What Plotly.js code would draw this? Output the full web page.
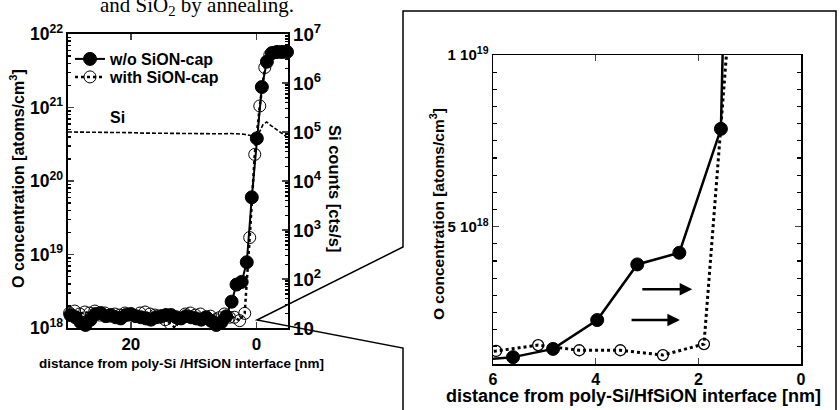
<!DOCTYPE html>
<html>
<head>
<meta charset="utf-8">
<script src="https://cdn.plot.ly/plotly-3.0.1.min.js"></script>
<style>html,body{margin:0;padding:0;background:#fff;}#chart{width:840px;height:410px;}</style>
</head>
<body>
<div id="chart"></div>
<script>
// ---- data ----
const distFilled = [29.61, 28.81, 28.01, 27.21, 26.41, 25.61, 24.81, 24.01, 23.21, 22.41,
  21.61, 20.81, 20.01, 19.21, 18.41, 17.61, 16.81, 16.01, 15.21, 14.41,
  13.61, 12.81, 12.01, 11.21, 10.41, 9.61, 8.81, 8.01, 7.21, 6.41,
  5.61, 4.83, 3.97, 3.19, 2.37, 1.56, 0.76, -0.04, -0.84, -1.64,
  -2.44, -3.24, -4.04, -4.84];
const concFilled = [1.5e18, 1.4e18, 1.2e18, 1.1e18, 1.3e18, 1.55e18, 1.6e18, 1.45e18, 1.5e18, 1.4e18,
  1.35e18, 1.5e18, 1.55e18, 1.45e18, 1.4e18, 1.35e18, 1.3e18, 1.4e18, 1.45e18, 1.5e18,
  1.5e18, 1.4e18, 1.35e18, 1.45e18, 1.4e18, 1.35e18, 1.3e18, 1.4e18, 1.25e18, 1.1e18,
  1.2e18, 1.44e18, 2.28e18, 3.9e18, 4.24e18, 7.85e18, 6e19, 3.8e20, 1.9e21, 4.2e21,
  5.5e21, 5.7e21, 5.7e21, 5.7e21];

const distOpen = [29.74, 28.94, 28.14, 27.34, 26.54, 25.74, 24.94, 24.14, 23.34, 22.54,
  21.74, 20.94, 20.14, 19.34, 18.54, 17.74, 16.94, 16.14, 15.34, 14.54,
  13.74, 12.94, 12.14, 11.34, 10.54, 9.74, 8.94, 8.14, 7.34, 6.54,
  5.94, 5.12, 4.32, 3.52, 2.69, 1.89, 1.09, 0.29, -0.51, -1.31,
  -2.11, -2.91, -3.71, -4.51];
const concOpen = [1.6e18, 1.7e18, 1.55e18, 1.65e18, 1.6e18, 1.7e18, 1.5e18, 1.6e18, 1.45e18, 1.55e18,
  1.5e18, 1.6e18, 1.5e18, 1.45e18, 1.6e18, 1.65e18, 1.55e18, 1.5e18, 1.4e18, 1.3e18,
  1.15e18, 1.0e18, 1.35e18, 1.55e18, 1.6e18, 1.5e18, 1.55e18, 1.4e18, 1.45e18, 1.3e18,
  1.38e18, 1.55e18, 1.4e18, 1.4e18, 1.26e18, 1.58e18, 1.7e19, 2.3e20, 1.05e21, 3.5e21,
  5.2e21, 5.6e21, 5.7e21, 5.7e21];

const distSi = [30, 28, 26, 24, 22, 20, 18, 16, 14, 12, 10, 8, 6, 4, 2, 0.5, -0.3, -1.0, -1.6, -2.3, -3.3, -4.3, -5];
const countsSi = [1.0e5, 1.0e5, 9.9e4, 9.8e4, 9.8e4, 9.7e4, 9.5e4, 9.4e4, 9.3e4, 9.3e4, 9.2e4, 9.2e4, 9.2e4,
  9.3e4, 9.0e4, 8.3e4, 9.0e4, 1.4e5, 1.6e5, 1.35e5, 1.1e5, 8.8e4, 7.6e4];

const seriesNames = ['w/o SiON-cap', 'with SiON-cap'];
const arrowTailsX = [3.12, 3.33];
const arrowHeadsX = [2.12, 2.36];
const arrowY = [3.18e18, 2.28e18];
const insetTickVals = [5e18, 1e19];
const insetTickText = ['5 10<sup>18</sup>', '1 10<sup>19</sup>'];

// ---- geometry helpers (pixel -> paper) ----
const W = 840, H = 410;
const px = v => v / W;
const py = v => 1 - v / H;

const F = 'Liberation Sans, Arial, sans-serif';
const bold = (size) => ({family: F, size: size, color: '#000', weight: 'bold'});

const traces = [
  {x: distFilled, y: concFilled, xaxis: 'x', yaxis: 'y', name: seriesNames[0], mode: 'lines+markers', legend: 'legend',
   line: {color: '#000', width: 2}, marker: {symbol: 'circle', size: 13, color: '#000', line: {color: '#000', width: 1}},
   cliponaxis: false},
  {x: distOpen, y: concOpen, xaxis: 'x', yaxis: 'y', name: seriesNames[1], mode: 'lines+markers', legend: 'legend2',
   line: {color: '#000', width: 2.5, dash: 'dot'}, marker: {symbol: 'circle-open', size: 12, color: '#000', line: {color: '#000', width: 1}},
   cliponaxis: false},
  {x: distSi, y: countsSi, xaxis: 'x', yaxis: 'y2', mode: 'lines', showlegend: false,
   line: {color: '#000', width: 1.6, dash: '4px,2px'}},
  {x: distFilled, y: concFilled, xaxis: 'x2', yaxis: 'y3', mode: 'lines+markers', showlegend: false,
   line: {color: '#000', width: 2.5}, marker: {symbol: 'circle', size: 13, color: '#000', line: {color: '#000', width: 1}},
   cliponaxis: true},
  {x: distOpen, y: concOpen, xaxis: 'x2', yaxis: 'y3', mode: 'lines+markers', showlegend: false,
   line: {color: '#000', width: 3, dash: 'dot'}, marker: {symbol: 'circle-open', size: 11, color: '#000', line: {color: '#000', width: 1.3}},
   cliponaxis: true}
];

const ann = (text, x, y, size, extra) => Object.assign({text: text, xref: 'paper', yref: 'paper', x: px(x), y: py(y),
  xanchor: 'center', yanchor: 'middle', showarrow: false, font: bold(size)}, extra || {});

const annotations = [
  ann('and SiO<sub>2</sub> by annealing.', 197, 6, 21,
      {font: {family: 'Liberation Serif, Times New Roman, serif', size: 21, color: '#000'}}),
  ann('Si', 117, 117, 16),
  ann('O concentration [atoms/cm<sup>3</sup>]', 17, 179, 16, {textangle: -90}),
  ann('Si counts [cts/s]', 335, 188, 16.5, {textangle: 90}),
  ann('distance from poly-Si /HfSiON interface [nm]', 181, 363, 13.5),
  ann('O concentration [atoms/cm<sup>3</sup>]', 437, 214, 15.5, {textangle: -90}),
  ann('distance from poly-Si/HfSiON interface [nm]', 633, 396, 18)
];
for (let i = 0; i < arrowY.length; i++) {
  annotations.push({x: arrowHeadsX[i], y: arrowY[i], ax: arrowTailsX[i], ay: arrowY[i], xref: 'x2', yref: 'y3',
    axref: 'x2', ayref: 'y3', text: '', showarrow: true, arrowhead: 2, arrowsize: 1, arrowwidth: 2.5, arrowcolor: '#000'});
}

const shapes = [
  {type: 'path', xref: 'paper', yref: 'paper', line: {color: '#000', width: 1.5}, fillcolor: 'rgba(0,0,0,0)',
   path: `M ${px(403)},${py(247)} L ${px(403)},${py(11)} L ${px(836)},${py(11)} L ${px(836)},${py(412)} L ${px(403)},${py(412)} L ${px(403)},${py(348)} L ${px(257)},${py(320)} Z`}
];

const legendBase = {xanchor: 'left', yanchor: 'middle', bgcolor: 'rgba(0,0,0,0)', font: bold(16), itemwidth: 30,
                    borderwidth: 0};

const layout = {
  width: W, height: H, margin: {l: 0, r: 0, t: 0, b: 0}, paper_bgcolor: '#fff', plot_bgcolor: 'rgba(0,0,0,0)',
  showlegend: true,
  legend: Object.assign({x: px(70), y: py(59)}, legendBase),
  legend2: Object.assign({x: px(70), y: py(77)}, legendBase),
  xaxis: {domain: [px(68), px(288)], range: [30, -5], tickvals: [20, 0], ticks: 'inside', ticklen: 6, tickwidth: 1.5,
          showline: true, linewidth: 2, linecolor: '#000', mirror: 'ticks', showgrid: false, zeroline: false,
          tickfont: bold(17), anchor: 'y'},
  yaxis: {domain: [py(328), py(34)], type: 'log', range: [18, 22], dtick: 1, exponentformat: 'power', showexponent: 'all',
          ticks: 'inside', ticklen: 6, tickwidth: 1.5, showline: true, linewidth: 2, linecolor: '#000', showgrid: false,
          zeroline: false, tickfont: bold(14), anchor: 'x',
          minor: {ticks: 'inside', ticklen: 3, dtick: 'D1', tickcolor: '#000', showgrid: false}},
  yaxis2: {overlaying: 'y', side: 'right', anchor: 'x', type: 'log', range: [1, 7], dtick: 1, exponentformat: 'power',
           showexponent: 'all', ticks: 'inside', ticklen: 6, tickwidth: 1.5, showline: true, linewidth: 2, linecolor: '#000',
           showgrid: false, zeroline: false, tickfont: bold(15),
           minor: {ticks: 'inside', ticklen: 3, dtick: 'D1', tickcolor: '#000', showgrid: false}},
  xaxis2: {domain: [px(493), px(801)], range: [6, 0], dtick: 2, ticks: 'inside', ticklen: 6, tickwidth: 1.2,
           showline: true, linewidth: 1.5, linecolor: '#000', mirror: 'ticks', showgrid: false, zeroline: false,
           tickfont: bold(16), anchor: 'y3'},
  yaxis3: {domain: [py(364), py(55)], range: [1e18, 1e19], tickvals: insetTickVals, ticktext: insetTickText,
           ticks: 'inside', ticklen: 6, tickwidth: 1.2, showline: true, linewidth: 1.5, linecolor: '#000', mirror: 'ticks',
           showgrid: false, zeroline: false, tickfont: bold(15), anchor: 'x2',
           minor: {ticks: 'inside', ticklen: 4, dtick: 5e17, tick0: 0, tickcolor: '#000', showgrid: false}},
  annotations: annotations,
  shapes: shapes
};

Plotly.newPlot('chart', traces, layout, {staticPlot: true, displayModeBar: false});
</script>
</body>
</html>
